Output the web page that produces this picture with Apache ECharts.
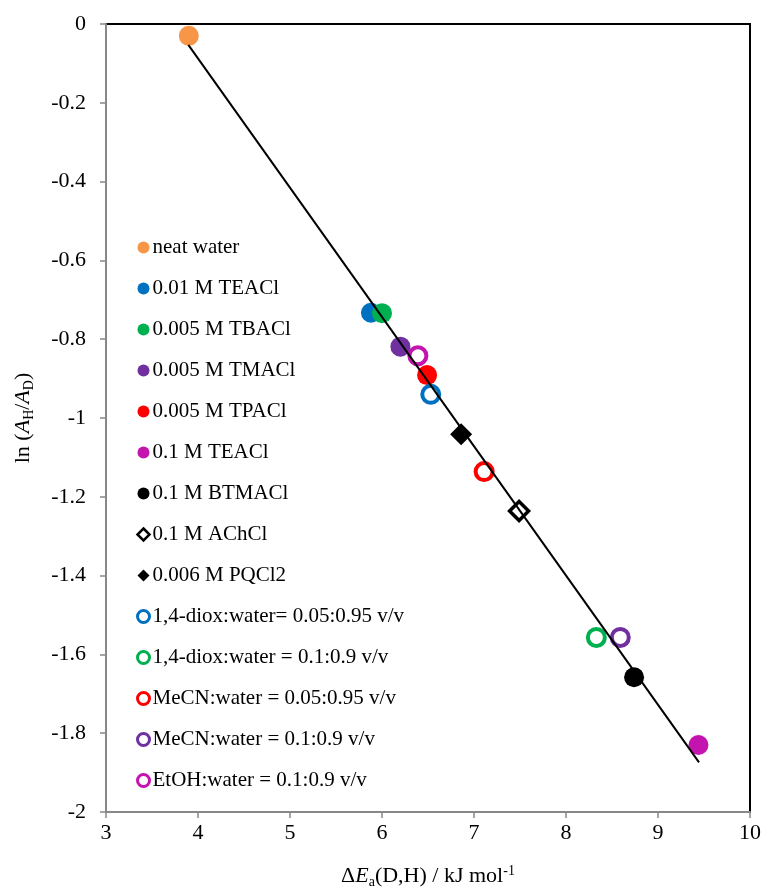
<!DOCTYPE html>
<html>
<head>
<meta charset="utf-8">
<script src="https://cdn.jsdelivr.net/npm/echarts@6/dist/echarts.min.js"></script>
<style>
html,body{margin:0;padding:0;background:#fff;}
#c{width:762px;height:888px;}
</style>
</head>
<body>
<div id="c"></div>
<script>
// ---- data ----
const seriesNames = [
  'neat water', '0.01 M TEACl', '0.005 M TBACl', '0.005 M TMACl', '0.005 M TPACl',
  '0.1 M TEACl', '0.1 M BTMACl', '0.1 M AChCl', '0.006 M PQCl2',
  '1,4-diox:water= 0.05:0.95 v/v', '1,4-diox:water = 0.1:0.9 v/v',
  'MeCN:water = 0.05:0.95 v/v', 'MeCN:water = 0.1:0.9 v/v', 'EtOH:water = 0.1:0.9 v/v'
];
const xValues = [3.90, 5.88, 6.00, 6.20, 6.49, 9.44, 8.74, 7.49, 6.86, 6.53, 8.33, 7.11, 8.59, 6.39];
const yValues = [-0.030, -0.733, -0.734, -0.819, -0.891, -1.830, -1.658, -1.236, -1.041, -0.940, -1.557, -1.136, -1.557, -0.842];
const markerKinds = ['fill','fill','fill','fill','fill','fill','fill','openDiamond','fillDiamond','open','open','open','open','open'];
const colors = ['#F79646','#0070C0','#00B050','#7030A0','#FF0000','#C414B0','#000000','#000000','#000000','#0070C0','#00B050','#FF0000','#7030A0','#C414B0'];
const trendX = [3.895, 9.446];
const trendY = [-0.053, -1.874];
const xTicks = {min: 3, max: 10, interval: 1};
const yTicks = {min: -2, max: 0, interval: 0.2};

const FONT = 'Liberation Serif';
const diamond = 'path://M0,-1L1,0L0,1L-1,0Z';

const series = seriesNames.map((name, i) => {
  const k = markerKinds[i];
  let symbol = 'circle', size = 20, itemStyle = {color: colors[i], opacity: 1};
  if (k === 'open') { size = 17; itemStyle = {color: '#fff', borderColor: colors[i], borderWidth: 4, opacity: 1}; }
  if (k === 'fillDiamond') { symbol = diamond; size = 22; }
  if (k === 'openDiamond') { symbol = diamond; size = 19; itemStyle = {color: '#fff', borderColor: colors[i], borderWidth: 3.5, opacity: 1}; }
  return {
    name, type: 'scatter', symbol, symbolSize: size, itemStyle,
    data: [[xValues[i], yValues[i]]], z: 2
  };
});
series.push({
  name: 'trend', type: 'line', data: trendX.map((x, i) => [x, trendY[i]]),
  showSymbol: false, symbol: 'none', lineStyle: {color: '#000', width: 2}, z: 5, silent: true
});

const legendData = seriesNames.map((name, i) => {
  const k = markerKinds[i];
  const d = {name};
  if (k === 'open') { d.icon = 'circle'; d.itemStyle = {color: '#fff', borderColor: colors[i], borderWidth: 3, opacity: 1}; }
  else if (k === 'openDiamond') { d.icon = diamond; d.itemStyle = {color: '#fff', borderColor: colors[i], borderWidth: 2.5, opacity: 1}; }
  else if (k === 'fillDiamond') { d.icon = diamond; d.itemStyle = {color: colors[i], borderWidth: 0, opacity: 1}; }
  else { d.icon = 'circle'; d.itemStyle = {color: colors[i], borderWidth: 0, opacity: 1}; }
  return d;
});

const chart = echarts.init(document.getElementById('c'), null, {renderer: 'canvas'});
chart.setOption({
  animation: false,
  backgroundColor: '#fff',
  grid: {left: 106, right: 12, top: 24, bottom: 76, show: true, borderColor: '#000', borderWidth: 2,
         backgroundColor: 'transparent', containLabel: false, outerBoundsMode: 'none'},
  legend: {
    data: legendData, orient: 'vertical', left: 131, top: 232,
    itemWidth: 12, itemHeight: 12, itemGap: 20, selectedMode: false,
    textStyle: {fontFamily: FONT, fontSize: 21, color: '#000', padding: [0, 0, 0, -2]}
  },
  xAxis: {
    type: 'value', min: xTicks.min, max: xTicks.max, interval: xTicks.interval,
    axisLine: {show: true, onZero: false, lineStyle: {color: '#888', width: 2}},
    axisTick: {show: true, inside: false, length: 6, lineStyle: {color: '#888', width: 1.5}},
    axisLabel: {fontFamily: FONT, fontSize: 22, color: '#000', margin: 10},
    splitLine: {show: false},
    name: '{n|Δ}{i|E}{sub|a}{n|(D,H) / kJ mol}{sup|-1}',
    nameLocation: 'middle', nameGap: 51,
    nameTextStyle: {
      fontFamily: FONT, fontSize: 22, color: '#000',
      rich: {
        n: {fontFamily: FONT, fontSize: 22, color: '#000'},
        i: {fontFamily: FONT, fontSize: 22, fontStyle: 'italic', color: '#000'},
        sub: {fontFamily: FONT, fontSize: 14, color: '#000', padding: [12, 0, 0, 0]},
        sup: {fontFamily: FONT, fontSize: 14, color: '#000', padding: [0, 0, 10, 0]}
      }
    }
  },
  yAxis: {
    type: 'value', min: yTicks.min, max: yTicks.max, interval: yTicks.interval,
    axisLine: {show: true, onZero: false, lineStyle: {color: '#888', width: 2}},
    axisTick: {show: true, inside: false, length: 6, lineStyle: {color: '#888', width: 1.5}},
    axisLabel: {fontFamily: FONT, fontSize: 22, color: '#000', margin: 20},
    splitLine: {show: false},
    name: '{n|ln (}{i|A}{sub|H}{n|/}{i|A}{sub|D}{n|)}',
    nameLocation: 'middle', nameGap: 70, nameRotate: 90,
    nameTextStyle: {
      fontFamily: FONT, fontSize: 22, color: '#000',
      rich: {
        n: {fontFamily: FONT, fontSize: 22, color: '#000'},
        i: {fontFamily: FONT, fontSize: 22, fontStyle: 'italic', color: '#000'},
        sub: {fontFamily: FONT, fontSize: 14, color: '#000', padding: [12, 0, 0, 0]}
      }
    }
  },
  series
});
</script>
</body>
</html>
